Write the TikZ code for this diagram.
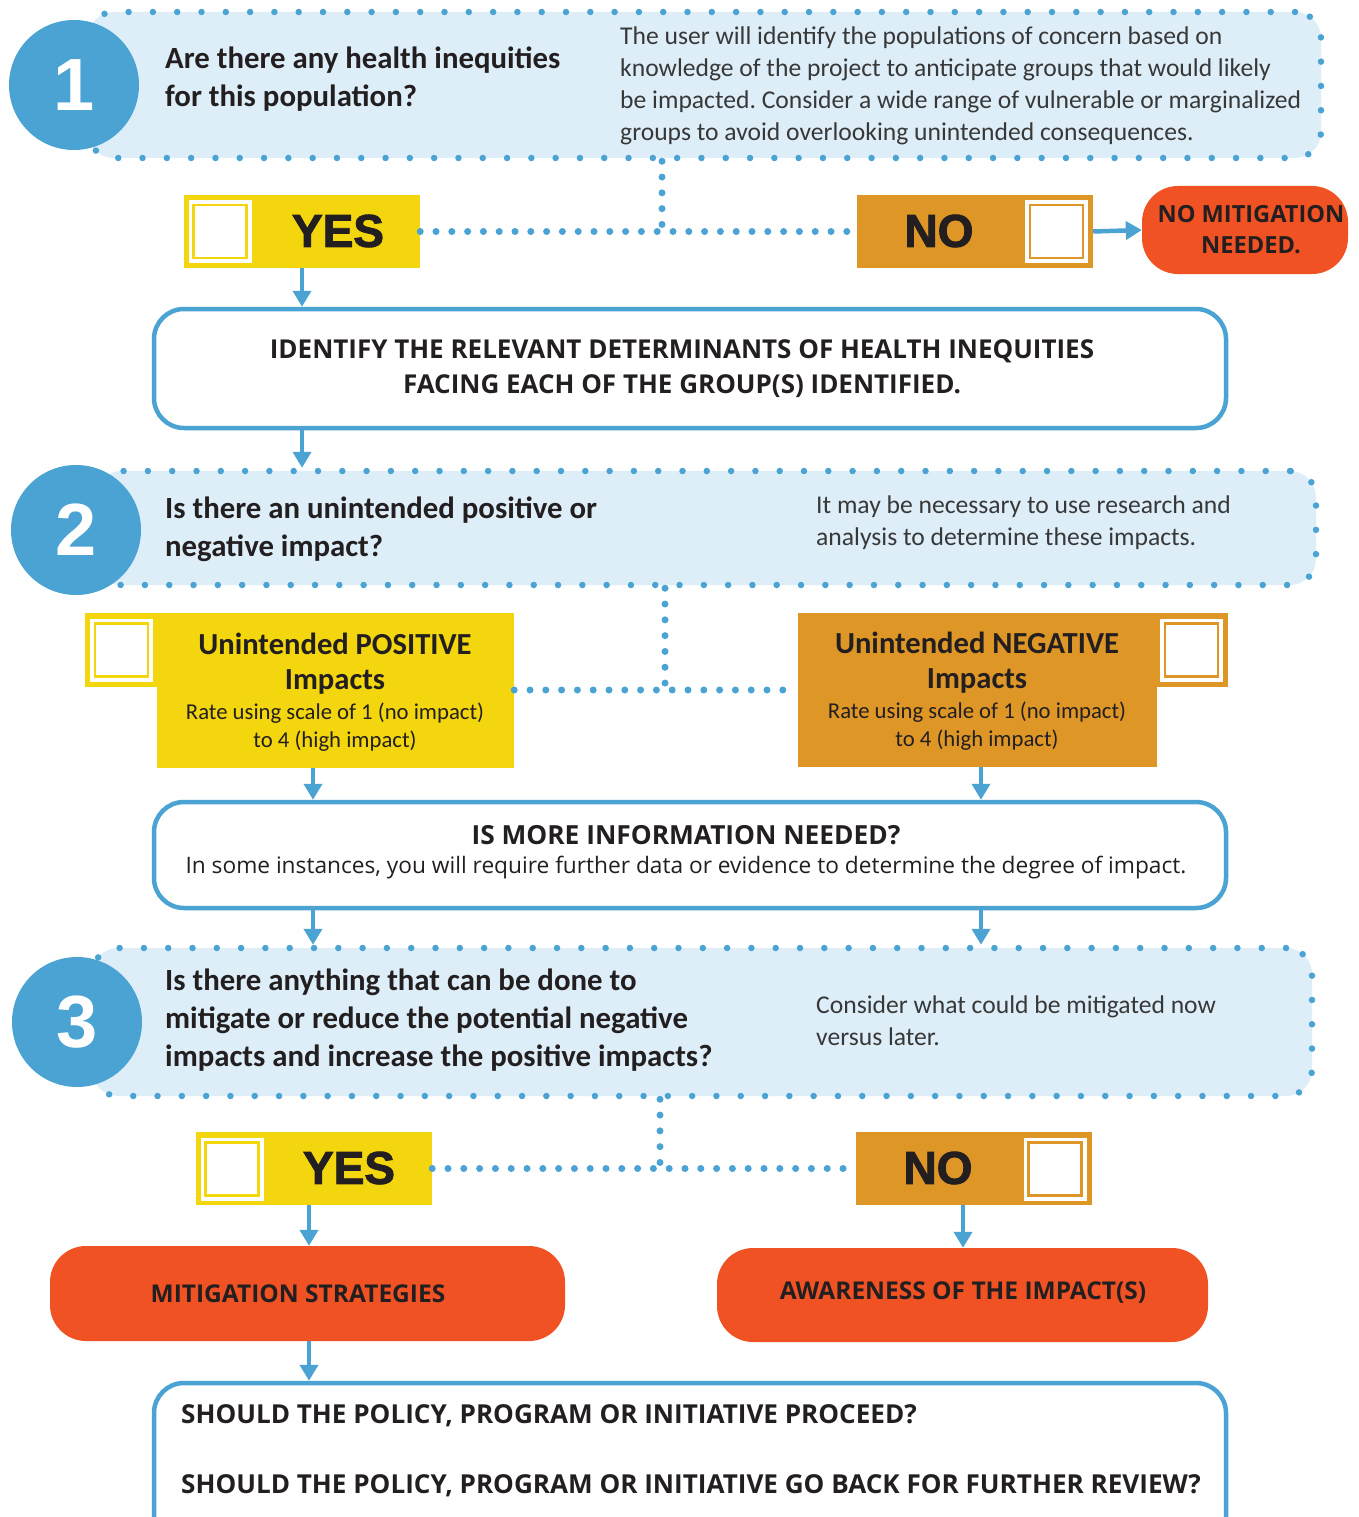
\documentclass[tikz,border=0pt]{standalone}
\usepackage{fontspec}
\setmainfont{Carlito}
\newfontfamily\osans{Open Sans}
\newfontfamily\lsans{Liberation Sans}
\newfontfamily\blk[BoldFeatures={FakeBold=2}]{Liberation Sans}
\usetikzlibrary{arrows.meta,calc}
\frenchspacing
\definecolor{cblue}{HTML}{4AA3D3}
\definecolor{clight}{HTML}{DDEEF8}
\definecolor{cyel}{HTML}{F3D60D}
\definecolor{corg}{HTML}{DE9626}
\definecolor{cred}{HTML}{F05223}
\definecolor{ctext}{HTML}{231F20}
\definecolor{cdesc}{HTML}{383838}
\tikzset{
  dotbox/.style={rectangle, rounded corners=26pt, fill=clight, draw=cblue, line width=6.5pt, line cap=round, dash pattern=on 0pt off 24.3pt, inner sep=0pt},
  numcirc/.style={circle, fill=cblue, minimum size=130pt, inner sep=0pt, text=white, font=\lsans\bfseries\fontsize{74}{74}\selectfont},
  whitebox/.style={rectangle, rounded corners=30pt, draw=cblue, line width=4.5pt, fill=white, inner sep=0pt},
  redbox/.style={rectangle, rounded corners=36pt, fill=cred, inner sep=0pt, text=ctext, align=center},
  yesbox/.style={rectangle, fill=cyel, inner sep=0pt, minimum width=236pt, minimum height=73pt},
  nobox/.style={rectangle, fill=corg, inner sep=0pt, minimum width=236pt, minimum height=73pt},
  chk/.style={rectangle, fill=white, inner sep=0pt, minimum width=63pt, minimum height=63pt,
    path picture={\draw[#1, line width=2.2pt] ([shift={(5pt,-5pt)}]path picture bounding box.north west) rectangle ([shift={(-5pt,5pt)}]path picture bounding box.south east);}},
  arr/.style={draw=cblue, line width=4pt, -{Triangle[width=18pt,length=16pt]}},
  conn/.style={draw=cblue, line width=7pt, line cap=round, dash pattern=on 0pt off 15.8pt},
  qtext/.style={font=\bfseries\fontsize{30.8}{38}\selectfont, text=ctext, align=left, inner sep=0pt},
  desc/.style={font=\fontsize{25.6}{32}\selectfont, text=cdesc, align=left, inner sep=0pt},
  yn/.style={font=\blk\bfseries\fontsize{46}{46}\selectfont, text=ctext, inner sep=0pt},
  caps/.style={font=\osans\bfseries\fontsize{#1}{35}\selectfont, text=ctext, inner sep=0pt},
  imptitle/.style={font=\bfseries\fontsize{30.6}{35}\selectfont, text=ctext, align=center, inner sep=0pt},
  imprate/.style={font=\fontsize{22.7}{28.5}\selectfont, text=ctext, align=center, inner sep=0pt},
}
\begin{document}
\begin{tikzpicture}[x=1pt,y=-1pt]
\useasboundingbox (0,0) rectangle (1359,1517);
\fill[white] (0,0) rectangle (1359,1517);

% ---------- Step 1 ----------
\node[dotbox, minimum width=1233pt, minimum height=146pt] (b1) at (704.5,85) {};
\node[numcirc] (c1) at (74,85) {1};
\node[qtext, anchor=west] (q1) at (165,79) {Are there any health inequities\\for this population?};
\node[desc, anchor=west] (d1) at (620,86) {The user will identify the populations of concern based on\\knowledge of the project to anticipate groups that would likely\\be impacted. Consider a wide range of vulnerable or marginalized\\groups to avoid overlooking unintended consequences.};

\coordinate (j1) at (662,231);
\draw[conn] (b1.south -| j1) -- (j1);

\node[yesbox] (yes1) at (302,231.5) {};
\node[chk=cyel] (yes1c) at (220,231.5) {};
\node[yn] (yes1t) at (338,231) {YES};

\node[nobox] (no1) at (975,231.5) {};
\node[chk=corg] (no1c) at (1056.5,231.5) {};
\node[yn] (no1t) at (939,231) {NO};

\draw[conn] (yes1.east) -- (no1.west);

\node[redbox, minimum width=206pt, minimum height=88pt, font=\osans\bfseries\fontsize{23.6}{31}\selectfont] (nomit) at (1245,230) {\hspace*{12pt}NO MITIGATION\\\hspace*{12pt}NEEDED.};
\draw[arr, line width=4.5pt] (no1.east) -- (nomit.west);

% ---------- Identify ----------
\node[whitebox, minimum width=1072pt, minimum height=119pt] (idb) at (690,368.5) {};
\node[caps=26, align=center] (idt) at (682,368.5) {IDENTIFY THE RELEVANT DETERMINANTS OF HEALTH INEQUITIES\\FACING EACH OF THE GROUP(S) IDENTIFIED.};
\draw[arr] (yes1.south) -- (yes1.south |- idb.north);

% ---------- Step 2 ----------
\node[dotbox, minimum width=1221pt, minimum height=114pt] (b2) at (705.5,528) {};
\draw[arr] (idb.south -| yes1.south) -- (b2.north -| yes1.south);
\node[numcirc] (c2) at (76,530) {2};
\node[qtext, anchor=west] (q2) at (165,529) {Is there an unintended positive or\\negative impact?};
\node[desc, anchor=west] (d2) at (816,523) {It may be necessary to use research and\\analysis to determine these impacts.};

\coordinate (j2) at (665,690);
\draw[conn] (b2.south -| j2) -- (j2);

\node[rectangle, fill=cyel, inner sep=0pt, minimum width=357pt, minimum height=155pt] (pos) at (335.5,690.5) {};
\node[rectangle, fill=cyel, inner sep=0pt, minimum width=72pt, minimum height=74pt] (posq) at (121,650) {};
\node[chk=cyel] (posc) at (121.5,650) {};
\node[imptitle] (post) at (335,663.5) {Unintended POSITIVE\\Impacts};
\node[imprate] (posr) at (335,727) {Rate using scale of 1 (no impact)\\to 4 (high impact)};

\node[rectangle, fill=corg, inner sep=0pt, minimum width=359pt, minimum height=154pt] (neg) at (977.5,690) {};
\node[rectangle, fill=corg, inner sep=0pt, minimum width=71pt, minimum height=74pt] (negq) at (1192.5,650) {};
\node[chk=corg] (negc) at (1191.5,650) {};
\node[imptitle] (negt) at (977,662.5) {Unintended NEGATIVE\\Impacts};
\node[imprate] (negr) at (977,726) {Rate using scale of 1 (no impact)\\to 4 (high impact)};

\draw[conn] (pos.east |- j2) -- (neg.west |- j2);

% ---------- Info ----------
\node[whitebox, minimum width=1072pt, minimum height=106pt] (info) at (690,855) {};
\node[caps=26.3] (infot) at (686,835) {IS MORE INFORMATION NEEDED?};
\node[font=\osans\fontsize{22.7}{26}\selectfont, text=ctext, inner sep=0pt] (infod) at (686,868) {In some instances, you will require further data or evidence to determine the degree of impact.};
\draw[arr] ([xshift=-22.5pt]pos.south) -- ([xshift=-22.5pt]pos.south |- info.north);
\draw[arr] ([xshift=3.5pt]neg.south) -- ([xshift=3.5pt]neg.south |- info.north);

% ---------- Step 3 ----------
\node[dotbox, minimum width=1220pt, minimum height=148pt] (b3) at (702,1022) {};
\draw[arr] ([xshift=-22.5pt]pos.south |- info.south) -- ([xshift=-22.5pt]pos.south |- b3.north);
\draw[arr] ([xshift=3.5pt]neg.south |- info.south) -- ([xshift=3.5pt]neg.south |- b3.north);
\node[numcirc] (c3) at (77,1022) {3};
\node[qtext, anchor=west] (q3) at (165,1020) {Is there anything that can be done to\\mitigate or reduce the potential negative\\impacts and increase the positive impacts?};
\node[desc, anchor=west] (d3) at (816,1021) {Consider what could be mitigated now\\versus later.};

\coordinate (j3) at (660,1168.5);
\draw[conn] (b3.south -| j3) -- (j3);

\node[yesbox] (yes2) at (314,1168.5) {};
\node[chk=cyel] (yes2c) at (232,1169) {};
\node[yn] (yes2t) at (349,1168) {YES};

\node[nobox] (no2) at (973.5,1168.5) {};
\node[chk=corg] (no2c) at (1055,1169) {};
\node[yn] (no2t) at (938,1168) {NO};

\draw[conn] (yes2.east) -- (no2.west);

% ---------- Outcomes ----------
\node[redbox, minimum width=515pt, minimum height=95pt] (mit) at (307.5,1293.5) {};
\node[caps=24.5] (mitt) at (298,1294) {MITIGATION STRATEGIES};
\node[redbox, minimum width=491pt, minimum height=94pt] (awa) at (962.5,1295) {};
\node[caps=24.5] (awat) at (963,1293) {AWARENESS OF THE IMPACT(S)};
\draw[arr] ([xshift=-5pt]yes2.south) -- ([xshift=-5pt]yes2.south |- mit.north);
\draw[arr] ([xshift=-10.5pt]no2.south) -- ([xshift=-10.5pt]no2.south |- awa.north);

% ---------- Final ----------
\node[whitebox, minimum width=1072pt, minimum height=170pt] (fin) at (690,1468) {};
\draw[arr] ([xshift=-5pt]yes2.south |- mit.south) -- ([xshift=-5pt]yes2.south |- fin.north);
\node[caps=26.1, anchor=west] (fin1) at (181,1416) {SHOULD THE POLICY, PROGRAM OR INITIATIVE PROCEED?};
\node[caps=26.1, anchor=west] (fin2) at (181,1486) {SHOULD THE POLICY, PROGRAM OR INITIATIVE GO BACK FOR FURTHER REVIEW?};
\end{tikzpicture}
\end{document}
